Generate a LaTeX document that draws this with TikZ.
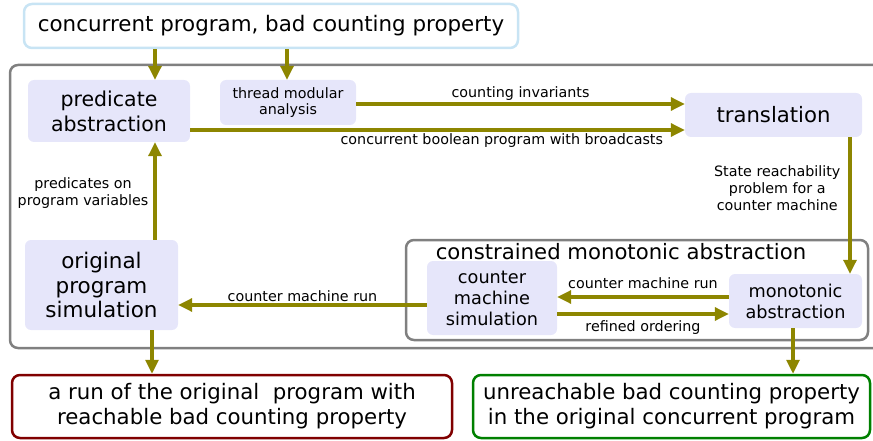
\documentclass[tikz,border=0pt]{standalone}
\usepackage{fontspec}
\setmainfont{DejaVu Sans}
\usetikzlibrary{arrows.meta,positioning}

\definecolor{lav}{RGB}{230,230,250}
\definecolor{skyline}{RGB}{200,228,244}
\definecolor{darkred}{RGB}{128,0,0}
\definecolor{darkgreen}{RGB}{0,128,0}

\tikzset{
  box/.style={fill=lav, rounded corners=6pt, align=center, inner sep=0pt},
  frame/.style={draw=gray, line width=2.5pt, rounded corners=8pt},
  flow/.style={->, draw=olive, line width=3.2pt},
  lbl/.style={font=\fontsize{14.3}{17}\selectfont, align=center, inner sep=2pt}
}

\begin{document}
\begin{tikzpicture}[x=1pt,y=-1pt,>={Triangle[length=14pt,width=13pt]}]
  \useasboundingbox (0,0) rectangle (873,441);

  % outer frame
  \draw[frame] (10,65) rectangle (890,348);
  \draw[frame] (406,240) rectangle (868,340);
  \node[font=\fontsize{21.2}{25}\selectfont] (cma) at (621,252) {constrained monotonic abstraction};

  \node[draw=skyline, line width=2.5pt, fill=white, rounded corners=8pt, minimum width=494pt, minimum height=44pt,
        font=\fontsize{21.4}{25}\selectfont] (top) at (271,26) {concurrent program, bad counting property};

  \node[box, minimum width=162pt, minimum height=62pt, font=\fontsize{20.5}{25}\selectfont] (pred) at (109,111) {predicate\\abstraction};
  \node[box, minimum width=136pt, minimum height=45pt, font=\fontsize{14.3}{16.5}\selectfont] (thread) at (288,102.5) {thread modular\\analysis};
  \node[box, minimum width=177pt, minimum height=44pt, font=\fontsize{21.2}{25}\selectfont] (trans) at (773.5,115) {translation};
  \node[box, minimum width=153pt, minimum height=90pt, font=\fontsize{21.5}{24.5}\selectfont] (orig) at (101.5,285) {original\\program\\simulation};
  \node[box, minimum width=130pt, minimum height=74pt, font=\fontsize{17.7}{21}\selectfont] (cms) at (492,298) {counter\\machine\\simulation};
  \node[box, minimum width=133pt, minimum height=54pt, font=\fontsize{17.7}{21}\selectfont] (mono) at (795.5,301) {monotonic\\abstraction};

  \node[draw=darkred, line width=2.5pt, rounded corners=8pt, minimum width=440pt, minimum height=63pt, align=center,
        font=\fontsize{21.3}{25}\selectfont] (bad) at (232,406.5) {a run of the original\ \ program with\\reachable bad counting property};
  \node[draw=darkgreen, line width=2.5pt, rounded corners=8pt, minimum width=397pt, minimum height=63pt, align=center,
        font=\fontsize{21.3}{25}\selectfont] (good) at (671.5,406.5) {unreachable bad counting property\\in the original concurrent program};

  % x positions of the vertical connectors
  \coordinate (xa) at (155,0);
  \coordinate (xb) at (287,0);
  \coordinate (xc) at (850,0);
  \coordinate (xd) at (793,0);
  \coordinate (xe) at (152,0);
  % y positions of the horizontal connectors
  \coordinate (ya) at (0,104);
  \coordinate (yb) at (0,130);
  \coordinate (yc) at (0,305);
  \coordinate (yd) at (0,297);
  \coordinate (ye) at (0,314);

  \draw[flow] (top.south -| xa) -- (pred.north -| xa);
  \draw[flow] (top.south -| xb) -- (thread.north -| xb);
  \draw[flow] (thread.east |- ya) -- node[lbl, above] {counting invariants} (trans.west |- ya);
  \draw[flow] (pred.east |- yb) -- node[lbl, below, pos=0.63] {concurrent boolean program with broadcasts} (trans.west |- yb);
  \draw[flow] (trans.south -| xc) -- node[lbl, left=6pt, pos=0.37] {State reachability\\problem for a\\counter machine} (mono.north -| xc);
  \draw[flow] (orig.north -| xa) -- node[lbl, left=3pt, pos=0.48] {predicates on\\program variables} (pred.south -| xa);
  \draw[flow] (cms.west |- yc) -- node[lbl, above] {counter machine run} (orig.east |- yc);
  \draw[flow] (mono.west |- yd) -- node[lbl, above=5pt] {counter machine run} (cms.east |- yd);
  \draw[flow] (cms.east |- ye) -- node[lbl, below=3pt] {refined ordering} (mono.west |- ye);
  \draw[flow] (orig.south -| xe) -- (bad.north -| xe);
  \draw[flow] (mono.south -| xd) -- (good.north -| xd);
\end{tikzpicture}
\end{document}
